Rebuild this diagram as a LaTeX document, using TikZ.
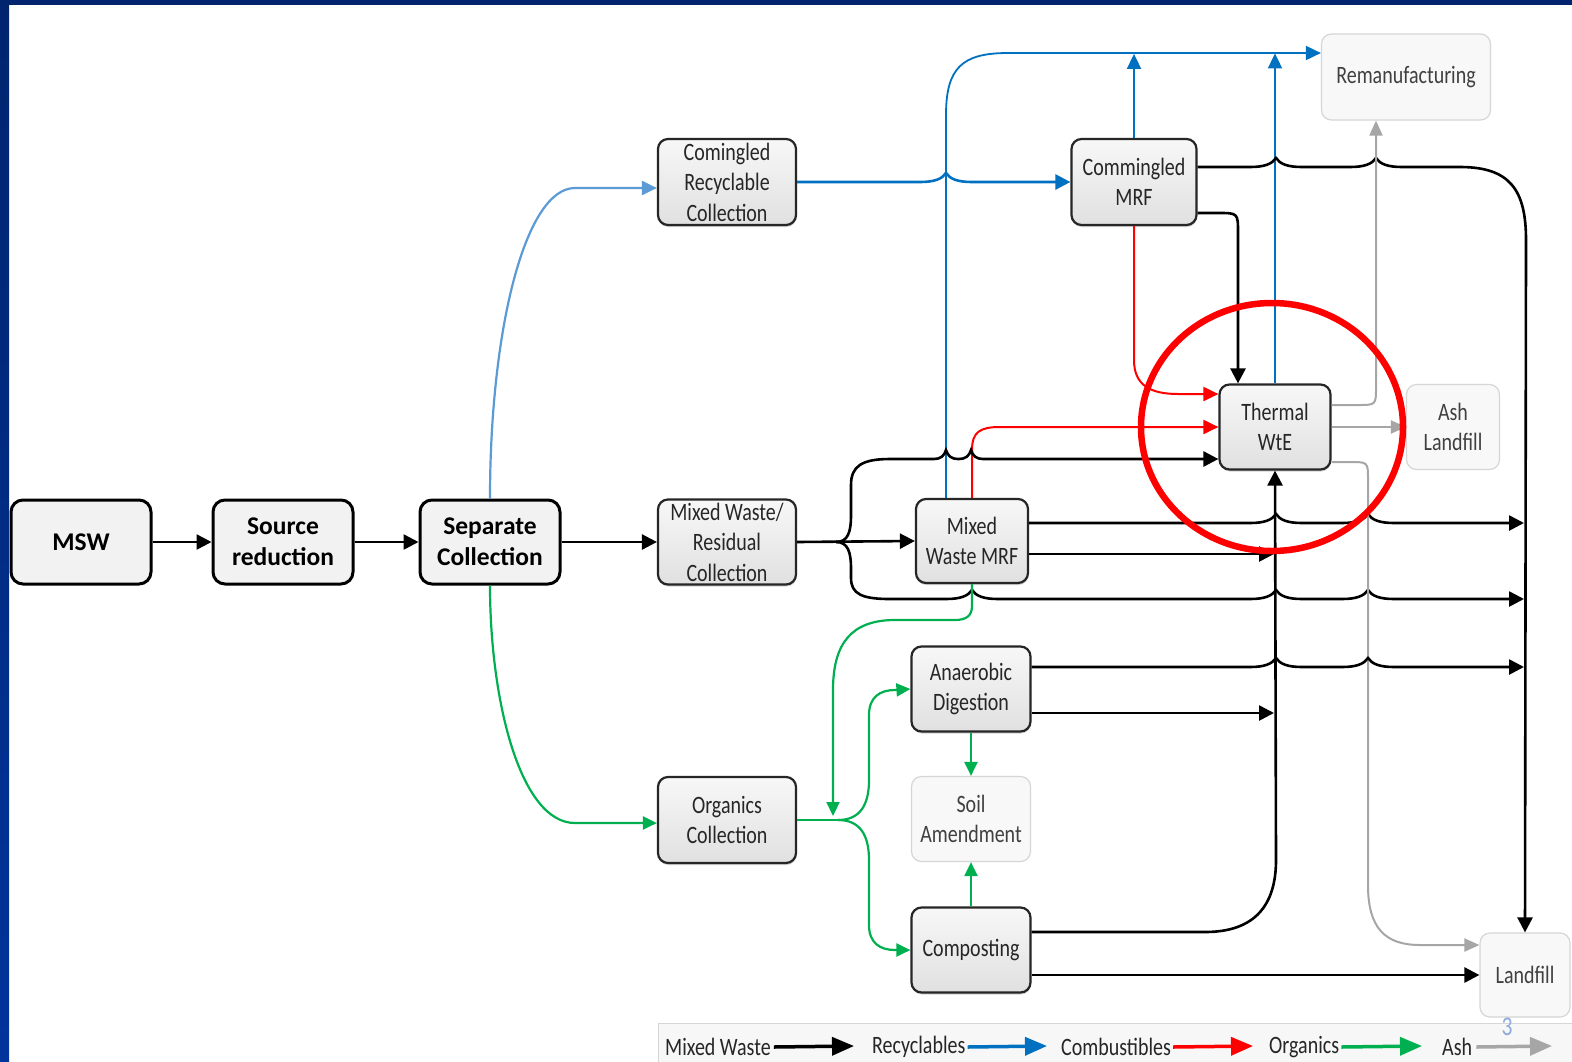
\documentclass[tikz,border=0pt]{standalone}
\usepackage{fontspec}
\setmainfont{Carlito}
\newfontfamily\narrowfont[FakeStretch=0.8]{Carlito}
\usetikzlibrary{arrows.meta,shadows}

\definecolor{navytop}{HTML}{00246E}
\definecolor{navyside}{HTML}{00349C}
\definecolor{recblue}{HTML}{0070C0}
\definecolor{sepblue}{HTML}{5B9BD5}
\definecolor{orggreen}{HTML}{00B050}
\definecolor{combred}{HTML}{FF0000}
\definecolor{ashgray}{HTML}{A6A6A6}
\definecolor{boxgray}{HTML}{F2F2F2}
\definecolor{sinkline}{HTML}{D6D6D6}
\definecolor{sinkfill}{HTML}{F8F8F8}
\definecolor{pagenum}{HTML}{8EA9DB}

\newcommand{\boxfont}{\narrowfont\fontsize{25}{30.5}\selectfont}
\newcommand{\leadfont}{\fontsize{25.5}{31}\selectfont\bfseries}
\newcommand{\hop}[3]{-- ({#2-#1},#3) .. controls ({#2-0.45*#1},#3) and ({#2-0.15*#1},{#3-3}) .. (#2,{#3-9}) .. controls ({#2+0.15*#1},{#3-3}) and ({#2+0.45*#1},#3) .. ({#2+#1},#3)}

\tikzset{
  leadbox/.style={draw, line width=3pt, rounded corners=12pt, fill=boxgray, minimum width=140pt, minimum height=84pt, inner sep=0pt, align=center, font=\leadfont},
  stepbox/.style={draw=black!85, line width=2.2pt, rounded corners=10pt, top color=white!97!black, bottom color=white!88!black, inner sep=0pt, align=center, font=\boxfont, text=black!85, drop shadow={shadow xshift=0.5pt, shadow yshift=-2pt, opacity=0.35}},
  sinkbox/.style={draw=sinkline, line width=1.2pt, rounded corners=10pt, fill=sinkfill, inner sep=0pt, align=center, font=\boxfont, text=black!75},
  mixflow/.style={line width=2.6pt, -{Triangle[length=15pt,width=15pt]}},
  recflow/.style={recblue, line width=2.6pt, -{Triangle[length=15pt,width=15pt]}},
  recthin/.style={recblue, line width=1.8pt, -{Triangle[length=15pt,width=14pt]}},
  sepflow/.style={sepblue, line width=2.2pt, -{Triangle[length=15pt,width=14pt]}},
  combflow/.style={combred, line width=2pt, -{Triangle[length=15pt,width=14pt]}},
  orgflow/.style={orggreen, line width=2.2pt, -{Triangle[length=14pt,width=13pt]}},
  ashflow/.style={ashgray, line width=2pt, -{Triangle[length=15pt,width=13pt]}},
  legtext/.style={font=\boxfont, text=black!85, inner sep=0pt, anchor=west},
  legflow/.style={line width=3.5pt, -{Triangle[length=22pt,width=18pt]}}
}

\begin{document}
\begin{tikzpicture}[x=1pt, y=-1pt]
	\useasboundingbox (0,0) rectangle (1572,1061);
	\fill[white] (0,0) rectangle (1572,1061);
	\fill[navytop] (0,0) rectangle (1572,5);
	\shade[top color=navytop, bottom color=navyside] (0,0) rectangle (9,1061);

	\node[leadbox] (msw) at (81,542) {MSW};
	\node[leadbox] (srcred) at (283,542) {Source\\reduction};
	\node[leadbox] (sepcoll) at (490,542) {Separate\\Collection};

	\node[stepbox, minimum width=138pt, minimum height=86pt] (recycoll) at (727,182) {Comingled\\Recyclable\\Collection};
	\node[stepbox, minimum width=138pt, minimum height=85pt] (mixcoll) at (727,542) {Mixed Waste/\\Residual\\Collection};
	\node[stepbox, minimum width=138pt, minimum height=86pt] (orgcoll) at (727,820) {Organics\\Collection};
	\node[stepbox, minimum width=125pt, minimum height=86pt] (cmrf) at (1134,182) {Commingled\\MRF};
	\node[stepbox, minimum width=111pt, minimum height=85pt] (wte) at (1275,427) {Thermal\\WtE};
	\node[stepbox, minimum width=112pt, minimum height=84pt] (mmrf) at (972,541) {Mixed\\Waste MRF};
	\node[stepbox, minimum width=119pt, minimum height=85pt] (ad) at (971,689) {Anaerobic\\Digestion};
	\node[stepbox, minimum width=119pt, minimum height=85pt] (comp) at (971,950) {Composting};

	\node[sinkbox, minimum width=169pt, minimum height=86pt] (reman) at (1406,77) {Remanufacturing};
	\node[sinkbox, minimum width=93pt, minimum height=85pt] (ashlf) at (1453,427) {Ash\\Landfill};
	\node[sinkbox, minimum width=119pt, minimum height=85pt] (soil) at (971,819) {Soil\\Amendment};
	\node[sinkbox, minimum width=90pt, minimum height=84pt] (landfill) at (1525,975) {Landfill};

	\draw[mixflow] (msw) -- (srcred);
	\draw[mixflow] (srcred) -- (sepcoll);
	\draw[mixflow] (sepcoll) -- (mixcoll);
	\draw[sepflow] (sepcoll.north) .. controls (490,330) and (525,188) .. (575,188) -- ([yshift=-6pt]recycoll.west);
	\draw[orgflow] (sepcoll.south) .. controls (490,700) and (520,823) .. (575,823) -- ([yshift=-3pt]orgcoll.west);

	\draw[recflow] (recycoll.east) \hop{26}{946}{182} -- (cmrf.west);
	\draw[recthin] ([xshift=-26pt]mmrf.north) -- (946,115) .. controls (946,68) and (962,53) .. (1008,53) -- ([yshift=24pt]reman.west);
	\draw[recthin] (cmrf.north) -- ++(0,-84);
	\draw[recthin] (wte.north) -- ++(0,-330);

	\draw[mixflow] ([yshift=15pt]cmrf.east) \hop{26}{1276}{167} \hop{26}{1376}{167} -- (1460,167) .. controls (1510,167) and (1526,190) .. (1526,240) -- (landfill.north);
	\draw[mixflow] ([yshift=-31pt]cmrf.east) -- (1218,213) .. controls (1238,213) .. (1238,233) -- ([xshift=-37pt]wte.north);
	\draw[combflow] (cmrf.south) -- (1134,360) .. controls (1134,385) and (1150,394) .. (1178,394) -- ([yshift=33pt]wte.west);
	\draw[combflow] (mmrf.north) -- (972,450) .. controls (972,432) and (980,427) .. (1000,427) -- (wte.west);

	\coordinate (fork) at (836,542);
	\draw[mixflow] (mixcoll.east) -- (mmrf.west);
	\draw[mixflow] (fork) .. controls (848,542) and (851,532) .. (851,515) -- (851,485) .. controls (851,466) and (862,459) .. (890,459) \hop{12}{946}{459} \hop{12}{971}{459} -- ([yshift=-32pt]wte.west);
	\draw[mixflow] (fork) .. controls (848,542) and (851,552) .. (851,569) -- (851,578) .. controls (851,594) and (862,599) .. (890,599) \hop{26}{972}{599} \hop{26}{1276}{599} \hop{26}{1368}{599} -- (1524,599);
	\draw[mixflow] ([yshift=18pt]mmrf.east) \hop{26}{1276}{523} \hop{26}{1368}{523} -- (1524,523);
	\draw[mixflow] ([yshift=-13pt]mmrf.east) -- (1274,554);

	\draw[ashflow] ([yshift=22pt]wte.east) -- (1358,405) .. controls (1376,405) .. (1376,387) -- ([xshift=-30pt]reman.south);
	\draw[ashflow] (wte.east) -- (ashlf.west);
	\draw[ashflow] ([yshift=-35pt]wte.east) -- (1350,462) .. controls (1368,462) .. (1368,480) -- (1368,885) .. controls (1368,928) and (1385,945) .. (1420,945) -- ([yshift=30pt]landfill.west);

	\draw[orgflow] (mmrf.south) -- (972,606) .. controls (972,616) and (966,620) .. (955,620) -- (895,620) .. controls (850,620) and (833,645) .. (833,690) -- (833,816);
	\coordinate (ofork) at (838,820);
	\draw[orggreen, line width=2.6pt] (orgcoll.east) -- (ofork);
	\draw[orgflow] (ofork) .. controls (860,820) and (869,805) .. (869,780) -- (869,715) .. controls (869,697) and (880,690) .. (895,690) -- (ad.west);
	\draw[orgflow] (ofork) .. controls (860,820) and (869,835) .. (869,860) -- (869,925) .. controls (869,943) and (880,950) .. (895,950) -- (comp.west);

	\draw[mixflow] ([yshift=22pt]ad.east) \hop{26}{1276}{667} \hop{26}{1368}{667} -- (1524,667);
	\draw[mixflow] ([yshift=-24pt]ad.east) -- (1274,713);
	\draw[orgflow] (ad.south) -- (soil.north);
	\draw[orgflow] (comp.north) -- (soil.south);
	\draw[mixflow] ([yshift=18pt]comp.east) -- (1205,932) .. controls (1255,932) and (1276,905) .. (1276,860) -- (wte.south);
	\draw[mixflow] ([yshift=-25pt]comp.east) -- (landfill.west);

	\draw[combred, line width=6.5pt] ([xshift=-3pt]wte.center) ellipse [x radius=131pt, y radius=124pt];

	\draw[sinkline, fill=white!97!black] (658,1023) rectangle (1580,1075);
	\node[legtext] (lgmix) at (665,1047) {Mixed Waste};
	\draw[legflow] ([xshift=3pt]lgmix.east) -- (854,1046);
	\node[legtext] (lgrec) at (872,1047) {Recyclables};
	\draw[legflow, recblue] ([xshift=2pt]lgrec.east) -- (1047,1046);
	\node[legtext] (lgcomb) at (1061,1047) {Combustibles};
	\draw[legflow, combred] ([xshift=2pt]lgcomb.east) -- (1253,1046);
	\node[legtext] (lgorg) at (1269,1047) {Organics};
	\draw[legflow, orggreen] ([xshift=2pt]lgorg.east) -- (1422,1046);
	\node[legtext] (lgash) at (1442,1047) {Ash};
	\draw[legflow, ashgray] ([xshift=4pt]lgash.east) -- (1552,1046);
	\node[font=\narrowfont\fontsize{27}{30}\selectfont, text=pagenum, inner sep=0pt] (pgno) at (1507,1027) {3};
\end{tikzpicture}
\end{document}
